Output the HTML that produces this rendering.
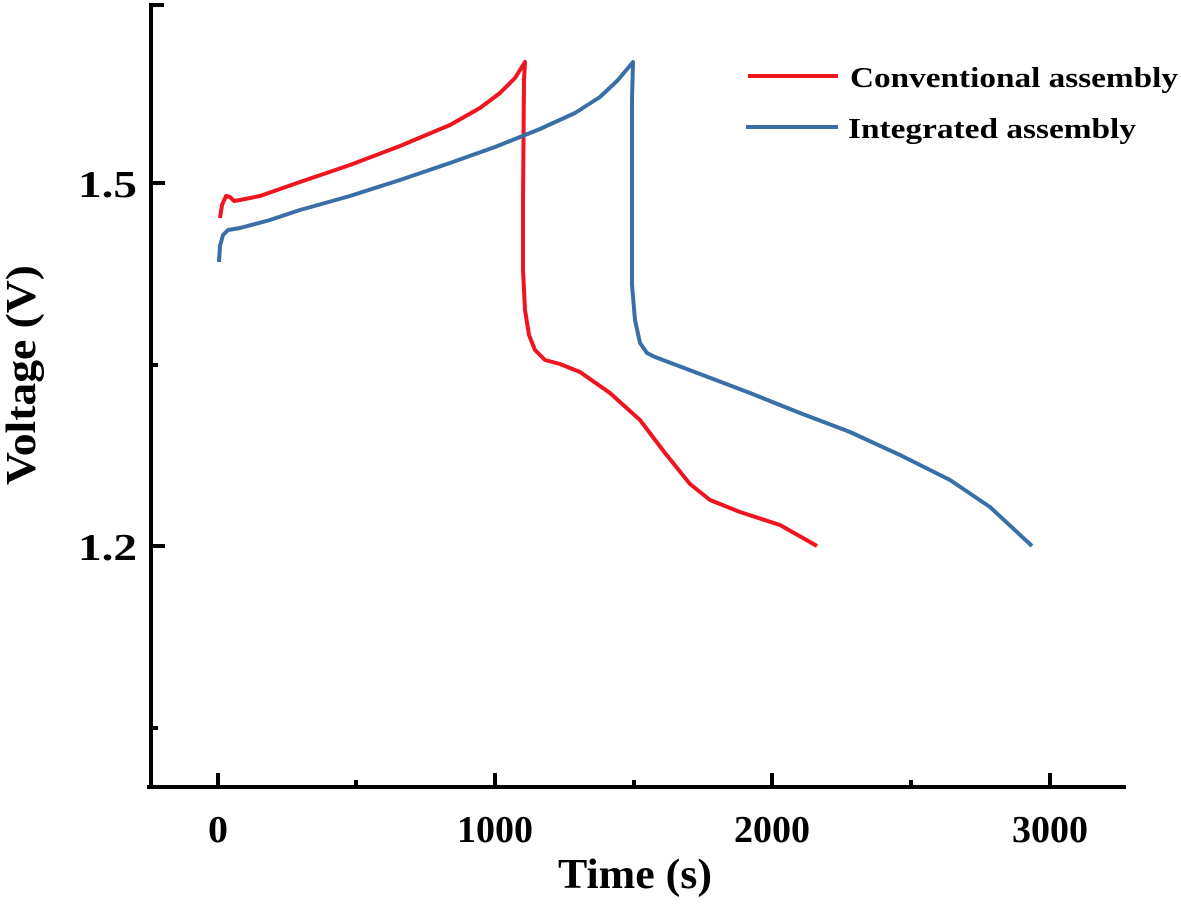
<!DOCTYPE html>
<html><head><style>body{margin:0;background:#fff}svg{display:block}</style></head><body>
<svg width="1181" height="923" xmlns="http://www.w3.org/2000/svg" font-family="Liberation Serif, serif" font-weight="bold">
<g stroke="#000" stroke-width="4" fill="none">
<line x1="151" y1="3" x2="151" y2="789"/>
<line x1="147" y1="787" x2="1126" y2="787"/>
<line x1="151" y1="5" x2="164" y2="5"/>
<line x1="151" y1="183" x2="165" y2="183"/>
<line x1="151" y1="365" x2="158" y2="365"/>
<line x1="151" y1="546" x2="165" y2="546"/>
<line x1="151" y1="728" x2="158" y2="728"/>
<line x1="218" y1="787" x2="218" y2="773"/>
<line x1="356" y1="787" x2="356" y2="780"/>
<line x1="495" y1="787" x2="495" y2="773"/>
<line x1="634" y1="787" x2="634" y2="780"/>
<line x1="772" y1="787" x2="772" y2="773"/>
<line x1="911" y1="787" x2="911" y2="780"/>
<line x1="1050" y1="787" x2="1050" y2="773"/>
</g>
<g font-size="38">
<text x="78" y="197" textLength="59" lengthAdjust="spacingAndGlyphs">1.5</text>
<text x="78" y="560" textLength="59" lengthAdjust="spacingAndGlyphs">1.2</text>
<text x="208" y="842" textLength="20" lengthAdjust="spacingAndGlyphs">0</text>
<text x="457" y="842" textLength="76" lengthAdjust="spacingAndGlyphs">1000</text>
<text x="734" y="842" textLength="76" lengthAdjust="spacingAndGlyphs">2000</text>
<text x="1012" y="842" textLength="76" lengthAdjust="spacingAndGlyphs">3000</text>
<text x="558" y="888" font-size="42" textLength="154" lengthAdjust="spacingAndGlyphs">Time (s)</text>
<text transform="translate(35,485) rotate(-90)" font-size="42" textLength="220" lengthAdjust="spacingAndGlyphs">Voltage (V)</text>
</g>
<g fill="none" stroke-width="4" stroke-linejoin="round">
<path stroke="#f0141e" d="M220,218 L222,205 L226,196 L230,197 L234,201 L240,200 L260,196 L300,182 L350,165 L400,146 L450,125 L480,108 L500,93 L515,78 L525,62 L524,80 L523,200 L523,270 L525,310 L529,335 L535,350 L545,360 L560,364 L580,372 L610,393 L640,420 L665,453 L690,484 L710,500 L740,512 L780,525 L817,546"/>
<path stroke="#3a6fa5" d="M219,262 L220,246 L223,235 L228,230 L240,228 L270,220 L300,210 L350,196 L400,180 L450,163 L495,147 L540,129 L575,113 L600,97 L618,80 L633,62 L632,100 L632,230 L632,285 L635,320 L640,343 L647,353 L655,357 L700,374 L750,393 L800,413 L850,432 L900,455 L950,480 L990,507 L1032,546"/>
<line x1="748" y1="76" x2="838" y2="76" stroke="#f0141e"/>
<line x1="746" y1="127" x2="838" y2="127" stroke="#3a6fa5"/>
</g>
<g font-size="29">
<text x="850" y="87" textLength="328" lengthAdjust="spacingAndGlyphs">Conventional assembly</text>
<text x="848" y="138" textLength="288" lengthAdjust="spacingAndGlyphs">Integrated assembly</text>
</g>
</svg>
</body></html>
